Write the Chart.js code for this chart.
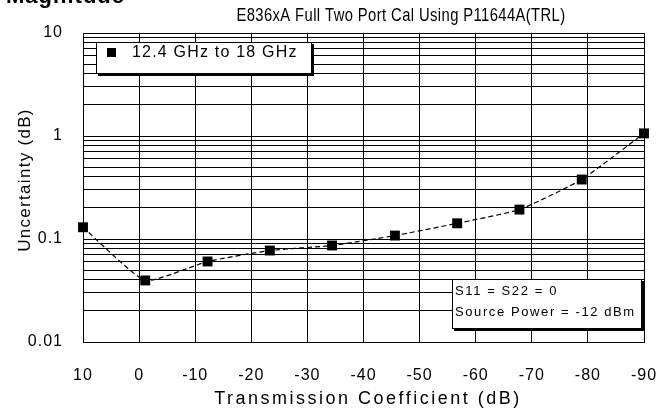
<!DOCTYPE html>
<html><head><meta charset="utf-8">
<style>html,body{margin:0;padding:0;background:#fff;}canvas{display:block;}</style>
<script src="https://cdn.jsdelivr.net/npm/chart.js@4/dist/chart.umd.min.js"></script>
</head><body>
<canvas id="c" width="658" height="412"></canvas>
<script>
// ---- data ----
const transmissionDb = [10, -1.1, -12.2, -23.3, -34.4, -45.6, -56.7, -67.8, -78.9, -90];
const uncertaintyDb = [0.13, 0.0396, 0.0605, 0.0773, 0.0865, 0.108, 0.142, 0.193, 0.378, 1.06];
const seriesLabel = '12.4 GHz to 18 GHz';
const chartTitle = 'E836xA Full Two Port Cal Using P11644A(TRL)';
const cornerLabel = 'Magnitude';
const xAxisTitle = 'Transmission Coefficient (dB)';
const yAxisTitle = 'Uncertainty (dB)';
const noteLines = ['S11 = S22 = 0', 'Source Power = -12 dBm'];
const xRange = [-90, 10];
const yRange = [0.01, 10];
const yDecadeLabels = ['0.01', '0.1', '1', '10'];

const FAM = '"Liberation Sans", Arial, sans-serif';

function boxWithShadow(ctx, x, y, w, h) {
  ctx.fillStyle = '#000';
  ctx.fillRect(x + 2, y + 2, w, h);
  ctx.fillStyle = '#fff';
  ctx.fillRect(x, y, w, h);
  ctx.strokeStyle = '#000';
  ctx.lineWidth = 1;
  ctx.strokeRect(x + 0.5, y + 0.5, w - 1, h - 1);
}

// text squeezed horizontally to mimic the condensed face of the original
function narrowText(ctx, text, x, y, sx) {
  ctx.save();
  ctx.translate(x, y);
  ctx.scale(sx, 1);
  ctx.fillText(text, 0, 0);
  ctx.restore();
}

const decor = {
  id: 'decor',
  beforeDraw(chart) { chart.ctx.letterSpacing = '1px'; },
  afterDraw(chart) {
    const ctx = chart.ctx;
    const ds = chart.data.datasets[0];
    ctx.save();
    ctx.fillStyle = '#000';
    // corner label (cut off at top)
    ctx.letterSpacing = '1px';
    ctx.font = 'bold 22px ' + FAM;
    ctx.textAlign = 'left';
    ctx.textBaseline = 'alphabetic';
    ctx.fillText(cornerLabel, 6, 3);
    // chart title
    ctx.letterSpacing = '0.5px';
    ctx.font = '18px ' + FAM;
    ctx.textAlign = 'center';
    ctx.textBaseline = 'middle';
    narrowText(ctx, chartTitle, 401, 16, 0.82);
    // x title
    ctx.letterSpacing = '2.5px';
    ctx.font = '18px ' + FAM;
    ctx.fillText(xAxisTitle, 368, 399);
    // y title
    ctx.save();
    ctx.letterSpacing = '1.3px';
    ctx.font = '17px ' + FAM;
    ctx.translate(25, 180);
    ctx.rotate(-Math.PI / 2);
    ctx.fillText(yAxisTitle, 0, 0);
    ctx.restore();
    // legend box
    boxWithShadow(ctx, 96, 42, 216, 32);
    ctx.fillStyle = ds.backgroundColor;
    ctx.fillRect(107, 48, 9, 9);
    ctx.fillStyle = '#000';
    ctx.letterSpacing = '1.2px';
    ctx.font = '16px ' + FAM;
    ctx.textAlign = 'left';
    ctx.textBaseline = 'middle';
    ctx.fillText(ds.label, 132, 53);
    // note box
    boxWithShadow(ctx, 452, 279, 190, 50);
    ctx.fillStyle = '#000';
    ctx.letterSpacing = '1.6px';
    ctx.font = '13px ' + FAM;
    ctx.fillText(noteLines[0], 455, 291);
    ctx.fillText(noteLines[1], 455, 312);
    ctx.restore();
  }
};

new Chart(document.getElementById('c'), {
  type: 'scatter',
  data: {
    datasets: [{
      label: seriesLabel,
      data: transmissionDb.map((x, i) => ({ x: x, y: uncertaintyDb[i] })),
      showLine: true,
      borderColor: '#000',
      borderWidth: 1.2,
      borderDash: [5, 3],
      tension: 0.15,
      backgroundColor: '#000',
      pointStyle: 'rect',
      pointRadius: 7,
      pointBorderWidth: 0,
      clip: false
    }]
  },
  options: {
    responsive: false,
    devicePixelRatio: 1,
    animation: false,
    layout: { padding: { top: 33, right: 14, bottom: 0, left: 0 } },
    plugins: { legend: { display: false }, title: { display: false }, tooltip: { enabled: false } },
    scales: {
      x: {
        type: 'linear',
        min: xRange[0], max: xRange[1],
        reverse: true,
        ticks: { stepSize: 10, color: '#000', font: { family: FAM, size: 16 }, padding: 24, maxRotation: 0 },
        grid: { color: '#000', lineWidth: 1, drawTicks: false },
        border: { color: '#000', width: 1 },
        afterFit(s) { s.height = 70; s.paddingLeft = 0; s.paddingRight = 0; }
      },
      y: {
        type: 'logarithmic',
        min: yRange[0], max: yRange[1],
        afterBuildTicks(s) {
          s.ticks = s.ticks.filter(t => {
            const m = t.value / Math.pow(10, Math.floor(Math.log10(t.value) + 1e-9));
            return Math.abs(m - Math.round(m)) < 1e-6;
          });
        },
        ticks: {
          autoSkip: false,
          color: '#000',
          font: { family: FAM, size: 16 },
          padding: 20,
          callback(v) {
            const l = Math.log10(v);
            if (Math.abs(l - Math.round(l)) < 1e-6) return yDecadeLabels[Math.round(l) + 2];
            return '';
          }
        },
        grid: { color: '#000', lineWidth: 1, drawTicks: false },
        border: { color: '#000', width: 1 },
        afterFit(s) { s.width = 83; s.paddingTop = 0; s.paddingBottom = 0; }
      }
    }
  },
  plugins: [decor]
});
</script>
</body></html>
